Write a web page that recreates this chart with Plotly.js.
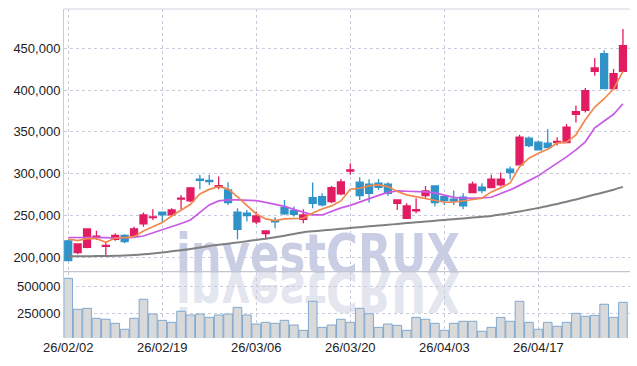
<!DOCTYPE html>
<html>
<head>
<meta charset="utf-8">
<script src="https://cdn.plot.ly/plotly-3.0.1.min.js"></script>
<style>
  html, body { margin: 0; padding: 0; background: #ffffff; }
  #wrap { position: relative; width: 637px; height: 366px; }
  #wm { position: absolute; left: 0; top: 0; z-index: 0; }
  #chart { position: absolute; left: 0; top: 0; width: 637px; height: 366px; z-index: 1; }
</style>
</head>
<body>
<div id="wrap">
<svg id="wm" width="637" height="366" xmlns="http://www.w3.org/2000/svg">
  <text x="176" y="273" font-family="DejaVu Sans" font-weight="bold" font-size="55" fill="#c9cee5" textLength="284" lengthAdjust="spacingAndGlyphs">investCRUX</text>
  <text x="176" y="273" transform="translate(0,546) scale(1,-1)" font-family="DejaVu Sans" font-weight="bold" font-size="55" fill="#e3e5ef" textLength="284" lengthAdjust="spacingAndGlyphs">investCRUX</text>
</svg>
<div id="chart"></div>
</div>
<script>
// Trading dates (YY/MM/DD)
const dates = [
  '26/02/02','26/02/03','26/02/04','26/02/05','26/02/06',
  '26/02/09','26/02/10','26/02/11','26/02/12','26/02/13',
  '26/02/19','26/02/20','26/02/23','26/02/24','26/02/25','26/02/26','26/02/27',
  '26/03/03','26/03/04','26/03/05','26/03/06',
  '26/03/09','26/03/10','26/03/11','26/03/12','26/03/13',
  '26/03/16','26/03/17','26/03/18','26/03/19','26/03/20',
  '26/03/23','26/03/24','26/03/25','26/03/26','26/03/27',
  '26/03/30','26/03/31','26/04/01','26/04/02','26/04/03',
  '26/04/06','26/04/07','26/04/08','26/04/09','26/04/10',
  '26/04/13','26/04/14','26/04/15','26/04/16','26/04/17',
  '26/04/20','26/04/21','26/04/22','26/04/23','26/04/24',
  '26/04/27','26/04/28','26/04/29','26/04/30'
];
const tickDates = ['26/02/02','26/02/19','26/03/06','26/03/20','26/04/03','26/04/17'];

const openP = [
  219200,205200,211600,223800,212800,221200,226000,225600,239600,247200,
  253600,250400,269400,267200,293200,291800,283600,280400,253600,252400,
  242000,228000,243200,259200,255600,245200,271200,272400,266400,275600,
  302800,289600,287200,288400,287200,264400,246400,255400,273600,285200,
  272400,269200,271600,277200,283600,283200,286400,305200,310400,342400,
  337600,336400,337000,337200,370800,375600,422400,443600,401600,422400
];
const highP = [
  220400,216400,234400,231600,216800,228400,227200,236400,253200,257200,
  254000,258400,274400,284000,298400,298400,296400,289600,258400,256400,
  254400,231600,247600,268400,260400,257200,289200,276400,285200,293600,
  312400,295600,293200,293600,289600,269000,264400,270400,285200,285600,
  273200,279600,276400,290400,288400,298400,301200,308400,346400,344400,
  339600,353200,343600,359200,381600,402400,438400,447600,425200,473200
];
const lowP = [
  195200,203200,210400,220400,202000,219600,216400,223600,236400,244400,
  241200,249200,257200,266000,281200,286400,281200,262400,221200,242400,
  239200,221200,234400,250400,248400,240400,258400,260400,264400,274000,
  298400,268400,265200,280400,273200,256400,246000,252400,270400,260400,
  262400,262400,257200,276400,276400,282400,284400,293200,309600,331600,
  327600,330400,333600,336400,361200,373200,417200,401000,400400,421600
];
const closeP = [
  195600,215600,233600,225000,214000,226000,218400,233600,250400,248000,
  250400,256400,270400,282800,291800,290400,285600,265200,233200,249600,
  249200,231200,242000,251600,251200,250400,264400,262400,283200,290000,
  304400,273600,276400,283600,276400,268400,261200,256600,279200,265200,
  267600,267200,261200,287200,279600,293200,293200,301200,343600,333600,
  328400,331200,338400,355600,374000,399200,426400,401600,419600,453200
];
const volume = [
  579000,288000,297000,203000,194000,156000,100000,203000,382000,243000,
  184000,165000,269000,234000,243000,212000,234000,243000,306000,234000,
  149000,165000,156000,184000,140000,90000,363000,118000,140000,194000,
  165000,297000,246000,118000,149000,137000,90000,212000,194000,156000,
  90000,156000,175000,175000,81000,118000,212000,175000,363000,165000,
  100000,165000,128000,165000,250000,222000,231000,335000,212000,353000
];
const ma5 = [
  221600,219600,222000,222000,217600,222800,223200,224400,231200,236400,
  241200,249200,256400,263200,275600,281000,284400,281600,272000,261200,
  251600,245600,243600,245600,246000,246400,252800,257600,261200,267200,
  281200,282400,285200,286400,284400,278400,274400,272400,270400,268400,
  265600,265600,267200,268400,270400,278000,282800,288800,308000,318400,
  324400,329200,336400,337600,346400,364400,379600,389600,401200,422400
];
const ma20 = [
  223400,223400,224000,224000,223200,222800,222800,223600,225200,228800,
  233000,236400,240200,244400,253000,262400,267200,268400,268400,268000,
  267600,265400,263000,260600,257000,253400,250400,250400,254600,258800,
  261800,266000,270200,273800,277400,279200,278800,278600,278000,276800,
  273800,271400,270400,270400,270800,271600,275600,280400,285800,291800,
  297200,305000,312200,320000,328400,338000,354800,363200,371000,383600
];
const ma60 = [
  200800,200900,201000,201100,201200,201400,201800,202400,203200,204200,
  205400,206800,208200,209600,211400,213200,214600,216000,217400,218900,
  220400,222000,223800,225600,227600,229600,230800,231800,232800,233800,
  234800,235800,236800,237700,238600,239600,240600,241500,242500,243400,
  244400,245300,246200,247200,248200,249200,250800,252600,254600,256600,
  258800,261000,263600,266200,269000,272000,274800,277600,280600,284000
];
const priceTicks = [200000,250000,300000,350000,400000,450000];
const volTicks = [250000,500000];

const UP = '#e21c63';
const DOWN = '#2f93c8';

const traces = [
  {
    type: 'bar', x: dates, y: volume, xaxis: 'x', yaxis: 'y2',
    width: 0.92,
    marker: { color: '#d9d9d9', line: { color: '#7fa9d0', width: 1 } },
    hoverinfo: 'skip'
  },
  {
    type: 'scatter', mode: 'lines', x: dates, y: ma60, xaxis: 'x', yaxis: 'y',
    line: { color: '#808080', width: 2, shape: 'spline', smoothing: 0.6 }, hoverinfo: 'skip'
  },
  {
    type: 'scatter', mode: 'lines', x: dates, y: ma20, xaxis: 'x', yaxis: 'y',
    line: { color: '#c95ae6', width: 1.7 }, hoverinfo: 'skip'
  },
  {
    type: 'scatter', mode: 'lines', x: dates, y: ma5, xaxis: 'x', yaxis: 'y',
    line: { color: '#f0894e', width: 1.7 }, hoverinfo: 'skip'
  },
  {
    type: 'candlestick', x: dates, open: openP, high: highP, low: lowP, close: closeP,
    xaxis: 'x', yaxis: 'y',
    increasing: { line: { color: UP, width: 1.3 }, fillcolor: UP },
    decreasing: { line: { color: DOWN, width: 1.3 }, fillcolor: DOWN },
    whiskerwidth: 0,
    hoverinfo: 'skip'
  }
];

const tickFont = { family: 'Liberation Sans, Arial, sans-serif', size: 13, color: '#222222' };
const gridC = '#c8cbdc';
const VOL_TOP = 0.2015;

const layout = {
  width: 637, height: 366,
  margin: { l: 64, r: 7, t: 9, b: 28 },
  paper_bgcolor: 'rgba(0,0,0,0)',
  plot_bgcolor: 'rgba(0,0,0,0)',
  showlegend: false,
  boxgap: 0.26,
  boxgroupgap: 0,
  bargap: 0.08,
  xaxis: {
    type: 'category',
    range: [-0.45, 59.75],
    rangeslider: { visible: false },
    tickmode: 'array', tickvals: tickDates, ticktext: tickDates,
    ticks: '', tickfont: tickFont,
    showgrid: true, gridcolor: gridC, griddash: 'dot', gridwidth: 1,
    showline: false, zeroline: false,
    anchor: 'y2'
  },
  yaxis: {
    domain: [VOL_TOP, 1],
    range: [182400, 497100],
    tickmode: 'array', tickvals: priceTicks, tickformat: ',d',
    ticks: '', tickfont: tickFont, ticklabelstandoff: 0,
    showgrid: true, gridcolor: gridC, griddash: 'dot', gridwidth: 1,
    showline: true, linecolor: '#c9ccd6', linewidth: 1,
    zeroline: false
  },
  yaxis2: {
    domain: [0, VOL_TOP],
    range: [18000, 641000],
    tickmode: 'array', tickvals: volTicks, tickformat: 'd',
    ticks: '', tickfont: tickFont,
    showgrid: true, gridcolor: gridC, griddash: 'dot', gridwidth: 1,
    showline: true, linecolor: '#c9ccd6', linewidth: 1,
    zeroline: false
  },
  shapes: [
    { type: 'line', xref: 'paper', yref: 'paper', x0: 0, x1: 1, y0: 1, y1: 1,
      line: { color: '#d3d5de', width: 1 } },
    { type: 'line', xref: 'paper', yref: 'paper', x0: 0, x1: 1, y0: VOL_TOP, y1: VOL_TOP,
      line: { color: '#c4c6cf', width: 1.2 } }
  ]
};

Plotly.newPlot('chart', traces, layout, { displayModeBar: false, staticPlot: true });
</script>
</body>
</html>
